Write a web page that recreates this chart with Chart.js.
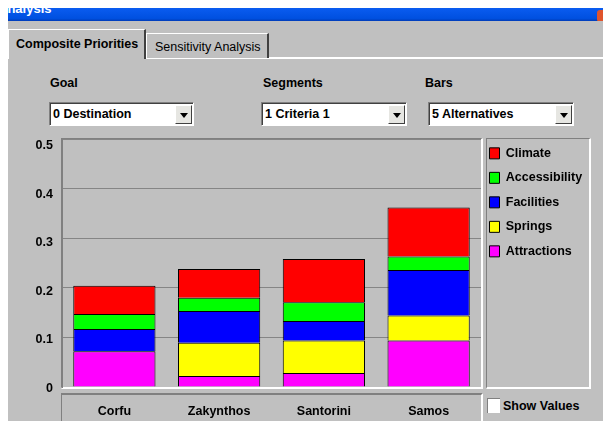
<!DOCTYPE html>
<html><head><meta charset="utf-8">
<script src="https://cdn.jsdelivr.net/npm/chart.js@4.4.0/dist/chart.umd.min.js"></script>
<style>
html,body{margin:0;padding:0;}
body{width:603px;height:421px;background:#c0c0c0;position:relative;overflow:hidden;
 font-family:'Liberation Sans',Arial,sans-serif;font-weight:bold;font-size:12.5px;color:#000;}
.a{position:absolute;box-sizing:border-box;}
.inset{border-top:1px solid #808080;border-left:1px solid #808080;border-right:2px solid #fff;border-bottom:2px solid #fff;}
.lbl{white-space:nowrap;}
.combo{background:#fff;border-top:1px solid #808080;border-left:1px solid #808080;border-right:1px solid #fff;border-bottom:1px solid #fff;box-shadow:inset 1px 1px 0 #404040;}
.combo .t{position:absolute;left:3px;top:0;height:22px;line-height:22px;white-space:nowrap;}
.combo .btn{position:absolute;right:1px;top:2px;width:17px;height:19px;background:#e6e6e2;border-top:1px solid #fff;border-left:1px solid #fff;border-right:1px solid #404040;border-bottom:1px solid #404040;box-sizing:border-box;}
.combo .btn:after{content:'';position:absolute;left:4px;top:7px;border-left:4px solid transparent;border-right:4px solid transparent;border-top:5px solid #000;}
canvas{position:absolute;left:0;top:0;}
</style></head>
<body>
<!-- window chrome -->
<div class="a" style="left:8px;top:8px;width:595px;height:13px;background:linear-gradient(#0a5cf0,#0050e0 80%,#003cb8);overflow:hidden;">
  <div class="a lbl" style="left:-10px;top:-9px;color:#fff;font-size:13px;line-height:20px;">Analysis</div>
  <div class="a" style="left:589px;top:2px;width:10px;height:12px;background:#e0542c;border-radius:3px;"></div>
</div>
<div class="a" style="left:0;top:0;width:603px;height:8px;background:#fff;"></div>
<div class="a" style="left:0;top:0;width:8px;height:421px;background:#fff;"></div>

<!-- tabs -->
<div class="a" style="left:145px;top:57px;width:458px;height:2px;background:#fff;"></div>
<div class="a" style="left:8px;top:29px;width:138px;height:30px;background:#c0c0c0;border-top:1px solid #fff;border-left:1px solid #fff;border-right:2px solid #404040;">
  <div class="a lbl" style="left:7px;top:5px;line-height:18px;">Composite Priorities</div>
</div>
<div class="a" style="left:146px;top:33px;width:123px;height:25px;background:#c0c0c0;border-top:1px solid #fff;border-left:1px solid #fff;border-right:2px solid #404040;">
  <div class="a lbl" style="left:8px;top:4px;line-height:18px;font-weight:normal;">Sensitivity Analysis</div>
</div>

<!-- selectors -->
<div class="a lbl" style="left:50px;top:74px;line-height:18px;">Goal</div>
<div class="a lbl" style="left:263px;top:74px;line-height:18px;">Segments</div>
<div class="a lbl" style="left:425px;top:74px;line-height:18px;">Bars</div>
<div class="a combo" style="left:49px;top:102px;width:145px;height:24px;"><div class="t">0 Destination</div><div class="btn"></div></div>
<div class="a combo" style="left:261px;top:102px;width:146px;height:24px;"><div class="t">1 Criteria 1</div><div class="btn"></div></div>
<div class="a combo" style="left:428px;top:102px;width:146px;height:24px;"><div class="t">5 Alternatives</div><div class="btn"></div></div>

<!-- panels -->
<div class="a inset" style="left:61px;top:138px;width:422px;height:251px;"></div>
<div class="a" style="left:61px;top:393px;width:422px;height:40px;border-top:2px solid #808080;border-left:1px solid #808080;border-right:2px solid #fff;"></div>
<div class="a inset" style="left:486px;top:138px;width:105px;height:251px;"></div>
<div class="a" style="left:487px;top:398px;width:13px;height:15px;background:#fff;border-top:1px solid #808080;border-left:1px solid #808080;"></div>
<div class="a lbl" style="left:503px;top:397px;line-height:18px;">Show Values</div>

<canvas id="c" width="603" height="421"></canvas>
<script>
const categories = ['Corfu', 'Zakynthos', 'Santorini', 'Samos'];
const attractions = [0.072, 0.022, 0.028, 0.094];
const springs = [0, 0.067, 0.066, 0.050];
const facilities = [0.045, 0.064, 0.039, 0.092];
const accessibility = [0.030, 0.027, 0.038, 0.027];
const climate = [0.057, 0.058, 0.087, 0.099];
const yTickValues = [0, 0.1, 0.2, 0.3, 0.4, 0.5];
const yTickLabels = ['0', '0.1', '0.2', '0.3', '0.4', '0.5'];

const FONT = {family: "'Liberation Sans', Arial, sans-serif", weight: 'bold', size: 12.5};

const legendPatch = {
  id: 'legendPatch',
  beforeLayout(chart) {
    const lg = chart.legend;
    if (lg && !lg._patched) {
      const of = lg.fit;
      lg.fit = function () { of.call(this); this.width = 109; };
      lg._patched = true;
    }
  },
  afterLayout(chart) {
    const lg = chart.legend;
    if (lg) { lg.left = 477.5; lg.right = lg.left + 109; lg.top = 135.1; }
  }
};

function ds(label, data, color) {
  return {label, data, backgroundColor: color, borderColor: '#000', borderWidth: 1,
          categoryPercentage: 1, barPercentage: 0.785};
}

new Chart(document.getElementById('c'), {
  type: 'bar',
  data: {
    labels: categories,
    datasets: [
      ds('Attractions', attractions, '#ff00ff'),
      ds('Springs', springs, '#ffff00'),
      ds('Facilities', facilities, '#0000ff'),
      ds('Accessibility', accessibility, '#00ff00'),
      ds('Climate', climate, '#ff0000')
    ]
  },
  options: {
    responsive: false,
    animation: false,
    layout: {padding: {top: 139, left: 0, right: 13, bottom: 0}},
    scales: {
      x: {
        stacked: true,
        grid: {display: false, drawTicks: false},
        border: {display: false},
        ticks: {color: '#000', font: FONT, padding: 17.2},
        afterFit(s) { s.height = 34; }
      },
      y: {
        stacked: true,
        weight: 0,
        min: 0, max: 0.5,
        ticks: {stepSize: 0.1, display: false},
        grid: {drawTicks: false, color: c => (c.tick && c.tick.value === 0) ? 'rgba(0,0,0,0)' : '#858585'},
        border: {color: '#808080'},
        afterFit(s) { s.width = 0; }
      },
      yl: {
        type: 'linear',
        position: 'left',
        weight: 1,
        min: 0, max: 0.5118,
        ticks: {color: '#000', font: FONT, padding: 9, labelOffset: 1.3,
                callback: (v, i) => yTickLabels[i]},
        afterBuildTicks(s) { s.ticks = yTickValues.map(v => ({value: v})); },
        grid: {display: false, drawTicks: false},
        border: {display: false},
        afterFit(s) { s.width = 62; }
      }
    },
    plugins: {
      legend: {
        position: 'right', align: 'start', reverse: true,
        labels: {boxWidth: 10, boxHeight: 11, padding: 12, color: '#000', font: FONT}
      },
      tooltip: {enabled: false}
    }
  },
  plugins: [legendPatch]
});
</script>
</body></html>
